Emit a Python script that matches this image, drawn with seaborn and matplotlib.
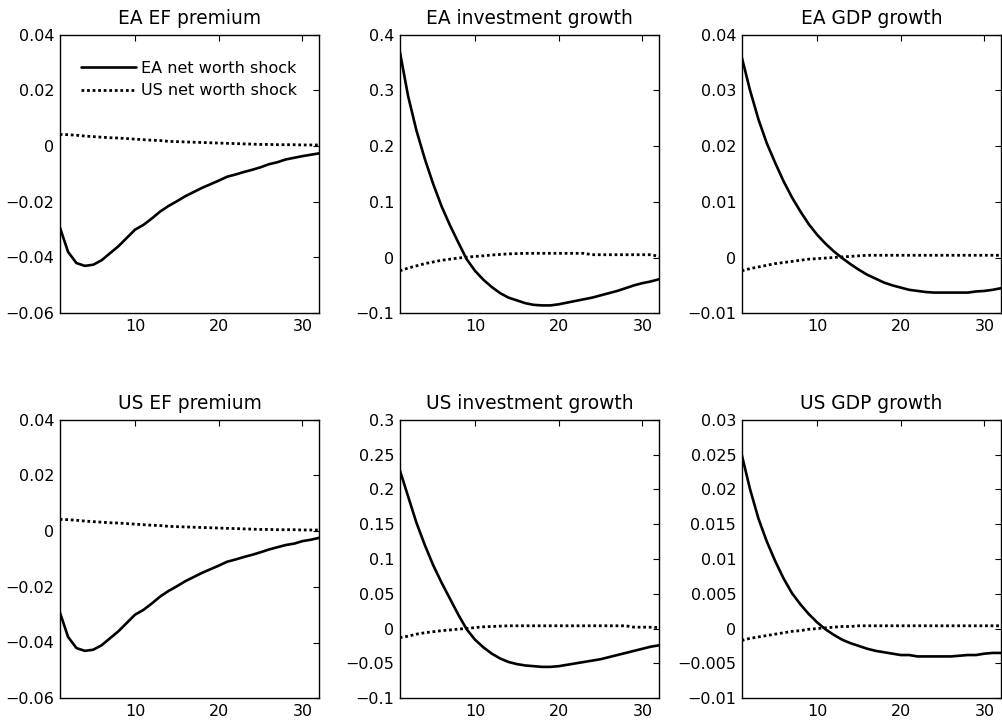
import numpy as np
import pandas as pd
import matplotlib
matplotlib.use("Agg")
import matplotlib.pyplot as plt
import seaborn as sns
from matplotlib.ticker import FuncFormatter, FixedLocator

sns.set_theme(style="white")
plt.rcParams['font.family'] = ['DejaVu Sans']
plt.rcParams['axes.unicode_minus'] = True
plt.rcParams['text.color'] = 'black'
plt.rcParams['axes.labelcolor'] = 'black'
plt.rcParams['xtick.color'] = 'black'
plt.rcParams['ytick.color'] = 'black'

periods = list(range(1, 33))
legend_labels = ["EA net worth shock", "US net worth shock"]

titles = ["EA EF premium", "EA investment growth", "EA GDP growth",
          "US EF premium", "US investment growth", "US GDP growth"]

# EA EF premium
ea_ef_ea = [-0.029, -0.038, -0.042, -0.043, -0.0426, -0.041, -0.0385, -0.036, -0.033, -0.030,
            -0.0283, -0.026, -0.0235, -0.0215, -0.0198, -0.018, -0.0165, -0.015, -0.0137, -0.0124,
            -0.011, -0.0102, -0.0093, -0.0085, -0.0076, -0.0065, -0.0058, -0.0048, -0.0042, -0.0036,
            -0.0031, -0.0026]
ea_ef_us = [0.0042, 0.0041, 0.0039, 0.0036, 0.0034, 0.0032, 0.0030, 0.0029, 0.0027, 0.0025,
            0.0023, 0.0021, 0.0020, 0.0017, 0.0016, 0.0015, 0.0014, 0.0013, 0.0012, 0.0011,
            0.0010, 0.0009, 0.0008, 0.0007, 0.0006, 0.0006, 0.0005, 0.0005, 0.0005, 0.0004,
            0.0004, 0.0004]
# EA investment growth
ea_inv_ea = [0.371, 0.29, 0.228, 0.177, 0.132, 0.092, 0.058, 0.027, -0.003, -0.024,
             -0.040, -0.053, -0.064, -0.072, -0.077, -0.082, -0.085, -0.086, -0.086, -0.084,
             -0.081, -0.078, -0.075, -0.072, -0.068, -0.064, -0.060, -0.055, -0.050, -0.046,
             -0.043, -0.039]
ea_inv_us = [-0.024, -0.019, -0.015, -0.011, -0.008, -0.005, -0.003, -0.001, 0.0005, 0.002,
             0.003, 0.0045, 0.0055, 0.0065, 0.007, 0.0075, 0.0075, 0.0075, 0.0075, 0.0075,
             0.0075, 0.0075, 0.0075, 0.005, 0.005, 0.005, 0.005, 0.005, 0.005, 0.005,
             0.005, 0.002]
# EA GDP growth
ea_gdp_ea = [0.036, 0.030, 0.0248, 0.0205, 0.017, 0.0137, 0.0108, 0.0083, 0.006, 0.0041,
             0.0025, 0.0011, -0.0001, -0.0012, -0.0022, -0.0031, -0.0038, -0.0045, -0.005, -0.0054,
             -0.0058, -0.006, -0.0062, -0.0063, -0.0063, -0.0063, -0.0063, -0.0063, -0.0061, -0.006,
             -0.0058, -0.0055]
ea_gdp_us = [-0.0024, -0.002, -0.0017, -0.0014, -0.0011, -0.0009, -0.0007, -0.0005, -0.0003, -0.0002,
             -0.0001, 0.0, 0.0001, 0.0002, 0.0003, 0.0004, 0.0004, 0.0004, 0.0004, 0.0004,
             0.0004, 0.0004, 0.0004, 0.0004, 0.0004, 0.0004, 0.0004, 0.0004, 0.0004, 0.0004,
             0.0004, 0.0004]
# US EF premium
us_ef_ea = [-0.029, -0.038, -0.042, -0.043, -0.0426, -0.041, -0.0385, -0.036, -0.033, -0.030,
            -0.0283, -0.026, -0.0235, -0.0215, -0.0198, -0.018, -0.0165, -0.015, -0.0137, -0.0124,
            -0.011, -0.0102, -0.0093, -0.0085, -0.0076, -0.0066, -0.0058, -0.005, -0.0045, -0.0036,
            -0.0031, -0.0024]
us_ef_us = [0.0042, 0.0041, 0.0039, 0.0036, 0.0034, 0.0032, 0.0030, 0.0029, 0.0027, 0.0025,
            0.0023, 0.0021, 0.0020, 0.0017, 0.0016, 0.0015, 0.0014, 0.0013, 0.0012, 0.0011,
            0.0010, 0.0009, 0.0008, 0.0007, 0.0006, 0.0006, 0.0005, 0.0005, 0.0005, 0.0004,
            0.0004, 0.0004]
# US investment growth
us_inv_ea = [0.228, 0.19, 0.152, 0.12, 0.091, 0.066, 0.043, 0.02, -0.001, -0.016,
             -0.027, -0.036, -0.043, -0.048, -0.051, -0.053, -0.054, -0.055, -0.055, -0.054,
             -0.052, -0.050, -0.048, -0.046, -0.044, -0.041, -0.038, -0.035, -0.032, -0.029,
             -0.026, -0.024]
us_inv_us = [-0.013, -0.011, -0.008, -0.006, -0.0045, -0.003, -0.002, -0.0008, 0.0002, 0.0015,
             0.0025, 0.003, 0.0035, 0.004, 0.004, 0.004, 0.004, 0.004, 0.004, 0.004,
             0.004, 0.004, 0.004, 0.004, 0.004, 0.004, 0.004, 0.004, 0.002, 0.002,
             0.002, 0.0015]
# US GDP growth
us_gdp_ea = [0.025, 0.020, 0.0158, 0.0125, 0.0097, 0.0072, 0.0051, 0.0035, 0.0021, 0.0009,
             -0.0001, -0.0009, -0.0016, -0.0021, -0.0025, -0.0029, -0.0032, -0.0034, -0.0036, -0.0038,
             -0.0038, -0.004, -0.004, -0.004, -0.004, -0.004, -0.0039, -0.0038, -0.0038, -0.0036,
             -0.0035, -0.0035]
us_gdp_us = [-0.0017, -0.0014, -0.0012, -0.001, -0.0008, -0.0006, -0.0004, -0.0003, -0.0001, 0.0,
             0.0001, 0.0002, 0.0003, 0.0003, 0.0004, 0.0004, 0.0004, 0.0004, 0.0004, 0.0004,
             0.0004, 0.0004, 0.0004, 0.0004, 0.0004, 0.0004, 0.0004, 0.0004, 0.0004, 0.0004,
             0.0004, 0.0004]

ylims = [(-0.06, 0.04), (-0.1, 0.4), (-0.01, 0.04),
         (-0.06, 0.04), (-0.1, 0.3), (-0.01, 0.03)]
yticks = [[-0.06, -0.04, -0.02, 0, 0.02, 0.04],
          [-0.1, 0, 0.1, 0.2, 0.3, 0.4],
          [-0.01, 0, 0.01, 0.02, 0.03, 0.04],
          [-0.06, -0.04, -0.02, 0, 0.02, 0.04],
          [-0.1, -0.05, 0, 0.05, 0.1, 0.15, 0.2, 0.25, 0.3],
          [-0.01, -0.005, 0, 0.005, 0.01, 0.015, 0.02, 0.025, 0.03]]
xticks = [10, 20, 30]

series = [(ea_ef_ea, ea_ef_us), (ea_inv_ea, ea_inv_us), (ea_gdp_ea, ea_gdp_us),
          (us_ef_ea, us_ef_us), (us_inv_ea, us_inv_us), (us_gdp_ea, us_gdp_us)]

W, H = 1003, 726
fig = plt.figure(figsize=(W / 100, H / 100), dpi=100)
fig.patch.set_facecolor("white")

lefts = [59.7, 399.7, 741.7]
tops = [34.7, 419.7]
aw, ah = 259.5, 278.5

def fmt(v, pos):
    v = round(v, 6)
    if v == 0:
        return "0"
    s = f"{v:g}"
    return s.replace("-", "\u2212")

for i in range(6):
    r, c = divmod(i, 3)
    ax = fig.add_axes([lefts[c] / W, 1 - (tops[r] + ah) / H, aw / W, ah / H])
    ax.set_facecolor("white")
    df = pd.DataFrame({"period": periods, "ea": series[i][0], "us": series[i][1]})
    sns.lineplot(data=df, x="period", y="ea", ax=ax, color="black", linewidth=1.9,
                 label=legend_labels[0])
    sns.lineplot(data=df, x="period", y="us", ax=ax, color="black", linewidth=2.0,
                 linestyle=(0, (1, 1)), label=legend_labels[1])
    ax.set_xlim(1, 32)
    ax.set_ylim(*ylims[i])
    ax.xaxis.set_major_locator(FixedLocator(xticks))
    ax.yaxis.set_major_locator(FixedLocator(yticks[i]))
    ax.yaxis.set_major_formatter(FuncFormatter(fmt))
    ax.set_xlabel("")
    ax.set_ylabel("")
    ax.tick_params(direction="in", length=4, width=0.8, colors="black",
                   labelcolor="black", top=True, right=True, labelsize=11.5, pad=4)
    for sp in ax.spines.values():
        sp.set_visible(True)
        sp.set_color("black")
        sp.set_linewidth(1.0)
    ax.set_title(titles[i], fontsize=13.4, pad=7.5, color="black")
    if i == 0:
        leg = ax.legend(loc="upper left", bbox_to_anchor=(0.058, 0.93), frameon=False,
                        fontsize=11.5, handlelength=3.45, handletextpad=0.31,
                        labelspacing=0.48, borderaxespad=0, labelcolor="black")
    else:
        lg = ax.get_legend()
        if lg is not None:
            lg.remove()

fig.savefig("out.png", dpi=100, facecolor="white")
